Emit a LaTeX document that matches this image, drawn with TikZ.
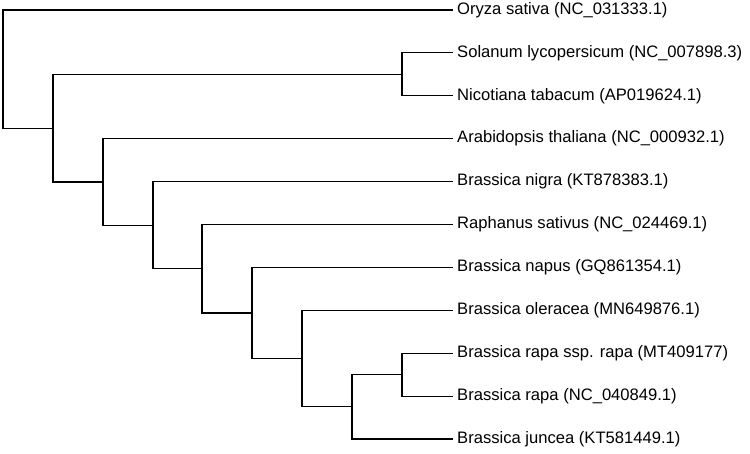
\documentclass[tikz,border=0pt]{standalone}
\usepackage{fontspec}
\setmainfont{Liberation Sans}
\usetikzlibrary{positioning}

\begin{document}
\begin{tikzpicture}[x=1pt,y=-1pt,leaf/.style={anchor=west,inner sep=5pt,font=\fontsize{16.6}{19}\selectfont},branch/.style={line width=1.1pt,line cap=rect}]
\useasboundingbox (0,0) rectangle (750,453);
% taxa
\node[leaf] (oryza) at (452,10) {Oryza sativa (NC\_031333.1)};
\node[leaf] (solanum) at (452,52.9) {Solanum lycopersicum (NC\_007898.3)};
\node[leaf] (nicotiana) at (452,95.8) {Nicotiana tabacum (AP019624.1)};
\node[leaf] (arabidopsis) at (452,138.7) {Arabidopsis thaliana (NC\_000932.1)};
\node[leaf] (nigra) at (452,181.6) {Brassica nigra (KT878383.1)};
\node[leaf] (raphanus) at (452,224.5) {Raphanus sativus (NC\_024469.1)};
\node[leaf] (napus) at (452,267.4) {Brassica napus (GQ861354.1)};
\node[leaf] (oleracea) at (452,310.3) {Brassica oleracea (MN649876.1)};
\node[leaf] (rapassp) at (452,353.2) {Brassica rapa ssp. rapa (MT409177)};
\node[leaf] (rapa) at (452,396.1) {Brassica rapa (NC\_040849.1)};
\node[leaf] (juncea) at (452,439) {Brassica juncea (KT581449.1)};
% inner nodes
\coordinate (solnic) at (402,74.4);
\coordinate (rapapair) at (402,374.6);
\coordinate (n8) at (352,406.8);
\coordinate (n7) at (302,358.6);
\coordinate (n6) at (252,313);
\coordinate (n5) at (202,268.8);
\coordinate (n4) at (153,225.2);
\coordinate (n3) at (103,182);
\coordinate (n2) at (53,128.2);
\coordinate (root) at (3,69.1);
% branches
\draw[branch] (oryza.west) -| (root) |- (n2);
\draw[branch] (solnic) -- (n2 |- solnic) -- (n2) |- (n3);
\draw[branch] (solanum.west) -| (solnic) |- (nicotiana.west);
\draw[branch] (arabidopsis.west) -| (n3) |- (n4);
\draw[branch] (nigra.west) -| (n4) |- (n5);
\draw[branch] (raphanus.west) -| (n5) |- (n6);
\draw[branch] (napus.west) -| (n6) |- (n7);
\draw[branch] (oleracea.west) -| (n7) |- (n8);
\draw[branch] (rapapair) -| (n8) |- (juncea.west);
\draw[branch] (rapassp.west) -| (rapapair) |- (rapa.west);
\end{tikzpicture}
\end{document}
